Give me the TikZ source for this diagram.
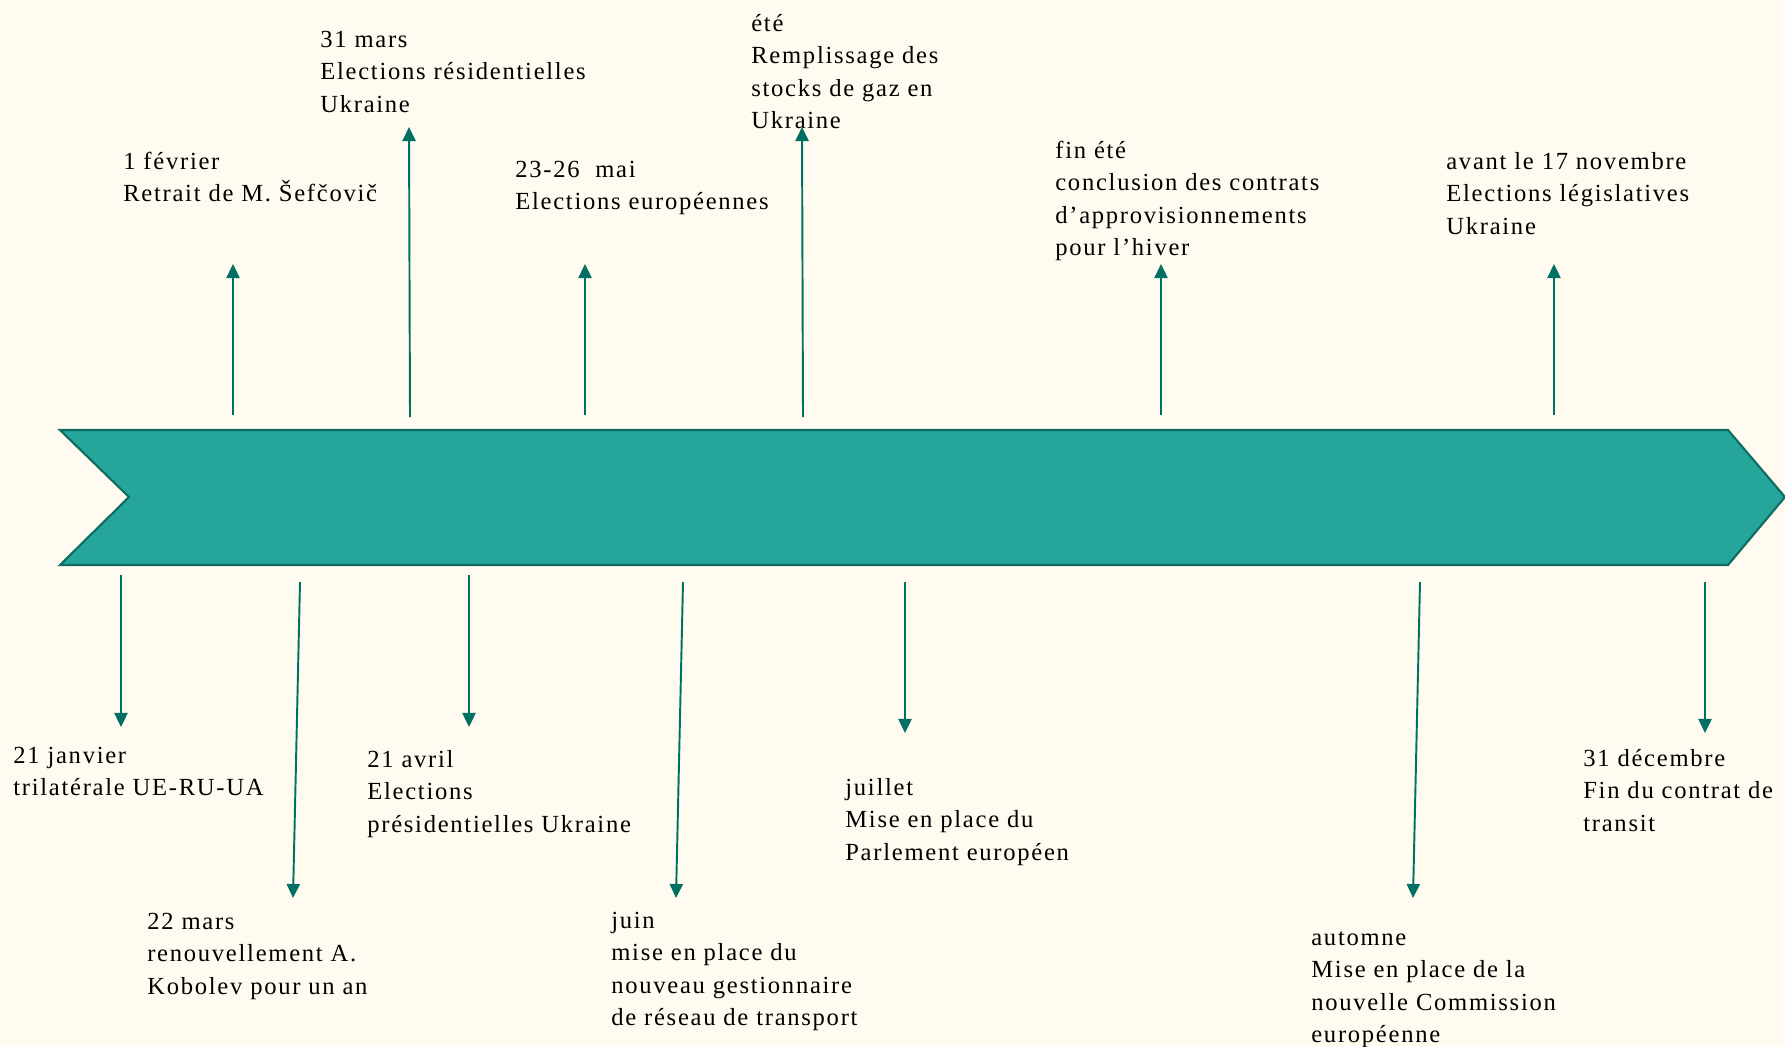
\documentclass[tikz,border=0pt]{standalone}
\usepackage{fontspec}
\setmainfont{Liberation Serif}[LetterSpace=7]
\usetikzlibrary{arrows.meta}

\definecolor{paper}{RGB}{255,251,241}
\definecolor{bandfill}{RGB}{38,166,154}
\definecolor{bandline}{RGB}{14,108,98}
\definecolor{tickcol}{RGB}{0,112,98}

\begin{document}
\begin{tikzpicture}[x=0.02cm, y=-0.02cm,
	event/.style={anchor=north west, align=left, inner sep=0pt, font=\fontsize{14}{18.5}\selectfont},
	tick/.style={tickcol, line width=1.1pt, -{Triangle[length=8pt,width=7.5pt]}}]
	% Page
	\fill[paper] (0,0) rectangle (1785,1046);
	\useasboundingbox (0,0) rectangle (1785,1046);

	% Timeline band
	\draw[fill=bandfill, draw=bandline, line width=1.2pt]
		(60,430) -- (1728,430) -- (1785,497) -- (1728,565) -- (60,565) -- (129,497) -- cycle;

	% Events above the band
	\node[event] (fev)    at (123,146)  {\strut 1 février\\Retrait de M. Šefčovič};
	\node[event] (mars31) at (320,24)   {\strut 31 mars\\Elections résidentielles\\Ukraine};
	\node[event] (mai)    at (515,154)  {\strut 23-26~~mai\\Elections européennes};
	\node[event] (ete)    at (751,8)    {\strut été\\Remplissage des\\stocks de gaz en\\Ukraine};
	\node[event] (finete) at (1055,135) {\strut fin été\\conclusion des contrats\\d’approvisionnements\\pour l’hiver};
	\node[event] (nov)    at (1446,146) {\strut avant le 17 novembre\\Elections législatives\\Ukraine};

	% Events below the band
	\node[event] (jan)     at (13,740)   {\strut 21 janvier\\trilatérale UE-RU-UA};
	\node[event] (mars22)  at (147,906)  {\strut 22 mars\\renouvellement A.\\Kobolev pour un an};
	\node[event] (avril)   at (367,744)  {\strut 21 avril\\Elections\\présidentielles Ukraine};
	\node[event] (juin)    at (611,905)  {\strut juin\\mise en place du\\nouveau gestionnaire\\de réseau de transport};
	\node[event] (juillet) at (845,772)  {\strut juillet\\Mise en place du\\Parlement européen};
	\node[event] (automne) at (1311,922) {\strut automne\\Mise en place de la\\nouvelle Commission\\européenne};
	\node[event] (dec)     at (1583,743) {\strut 31 décembre\\Fin du contrat de\\transit};

	% Ticks: name / foot / tip
	\foreach \n/\xa/\ya/\xb/\yb in {u1/233/415/233/264, u2/410/417/409/127, u3/585/415/585/264,
		u4/803/417/802/127, u5/1161/415/1161/264, u6/1554/415/1554/264,
		d1/121/575/121/727, d2/300/582/293/898, d3/469/575/469/727, d4/683/582/676/898,
		d5/905/582/905/733, d6/1420/582/1413/898, d7/1705/582/1705/733} {
		\coordinate (\n a) at (\xa,\ya);
		\coordinate (\n b) at (\xb,\yb);
		\draw[tick] (\n a) -- (\n b);
	}
\end{tikzpicture}
\end{document}
